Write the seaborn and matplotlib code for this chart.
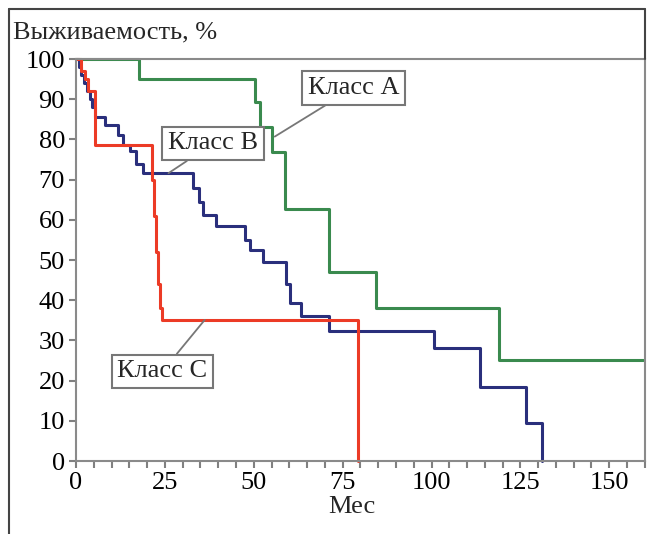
import pandas as pd
import matplotlib.pyplot as plt
import matplotlib.lines as mlines
import seaborn as sns
sns.set_style("ticks")
plt.rcParams['font.family'] = ['Liberation Serif', 'DejaVu Serif']

# survival curves (months, % surviving)
a_time = [0, 17.7, 50.3, 51.7, 55.0, 58.7, 71.3, 84.5, 119.1, 159.5]
a_surv = [100, 95, 89.4, 83.2, 76.9, 62.8, 47.1, 38.0, 25.1, 25.1]

b_time = [0, 0.8, 1.5, 2.3, 3.0, 3.8, 4.5, 5.3, 8.1, 11.9, 13.3, 15.2, 17.0, 18.9,
          33.0, 34.5, 35.8, 39.5, 47.5, 48.9, 52.6, 59.2, 60.3, 63.4, 71.3,
          100.8, 113.5, 126.6, 131.0]
b_surv = [100, 98, 96, 94, 92, 90, 88, 85.6, 83.6, 81.0, 78.5, 77.0, 74.0, 71.6,
          68.0, 64.5, 61.2, 58.5, 55.0, 52.5, 49.4, 44.0, 39.4, 36.1, 32.3,
          28.0, 18.5, 9.4, 0]

c_time = [0, 1.5, 2.5, 3.5, 5.3, 21.3, 21.9, 22.5, 23.1, 23.7, 24.1, 79.3]
c_surv = [100, 97, 95, 92, 78.6, 70, 61, 52, 44, 38, 35.1, 0]

groups = ["Класс А", "Класс В", "Класс С"]
colors = ["#3a8a4e", "#2a2f7c", "#ec3b26"]

df = pd.concat([
    pd.DataFrame({"Мес": a_time, "surv": a_surv, "group": groups[0]}),
    pd.DataFrame({"Мес": b_time, "surv": b_surv, "group": groups[1]}),
    pd.DataFrame({"Мес": c_time, "surv": c_surv, "group": groups[2]}),
])

fs = 19
fig = plt.figure(figsize=(6.5, 5.34), dpi=100)
ax = fig.add_axes([0.117, 0.1367, 0.875, 0.7528])

sns.lineplot(data=df, x="Мес", y="surv", hue="group", palette=dict(zip(groups, colors)),
             drawstyle="steps-post", estimator=None, lw=2.2, legend=False, ax=ax,
             clip_on=False)

ax.set_xlim(0, 160)
ax.set_ylim(0, 100)
ax.set_xticks([0, 25, 50, 75, 100, 125, 150])
ax.set_xticks(range(0, 161, 5), minor=True)
ax.set_yticks(range(0, 101, 10))
ax.tick_params(axis="both", which="both", colors="#808080", labelcolor="black",
               labelsize=fs, length=5, width=1.5, pad=3)
for s in ax.spines.values():
    s.set_color("#8a8a8a")
    s.set_linewidth(1.5)

ax.set_ylabel("")
ax.set_xlabel("Мес", fontsize=fs)
ax.xaxis.set_label_coords(0.485, -0.088)
fig.text(0.02, 0.94, "Выживаемость, %", fontsize=fs, va="center", ha="left")

# labels with leader lines
box = dict(boxstyle="square,pad=0.22", fc="white", ec="#777777", lw=1.5)
arr = dict(arrowstyle="-", color="#777777", lw=1.3, shrinkA=0, shrinkB=0)
ax.annotate(groups[0], xy=(55.9, 80.7), xytext=(78.1, 92.8), fontsize=fs,
            ha="center", va="center", bbox=box, arrowprops=arr)
ax.annotate(groups[1], xy=(26.0, 71.6), xytext=(38.6, 79.0), fontsize=fs,
            ha="center", va="center", bbox=box, arrowprops=arr)
ax.annotate(groups[2], xy=(36.2, 35.1), xytext=(24.3, 22.3), fontsize=fs,
            ha="center", va="center", bbox=box, arrowprops=arr)

# outer frame (top, left, right down to plot)
frame = dict(color="#444444", lw=1.5, transform=fig.transFigure)
fig.add_artist(mlines.Line2D([0.0138, 0.992], [0.983, 0.983], **frame))
fig.add_artist(mlines.Line2D([0.0138, 0.0138], [0.983, 0.0], **frame))
fig.add_artist(mlines.Line2D([0.992, 0.992], [0.983, 0.8895], **frame))

fig.savefig("out.png", dpi=100)
